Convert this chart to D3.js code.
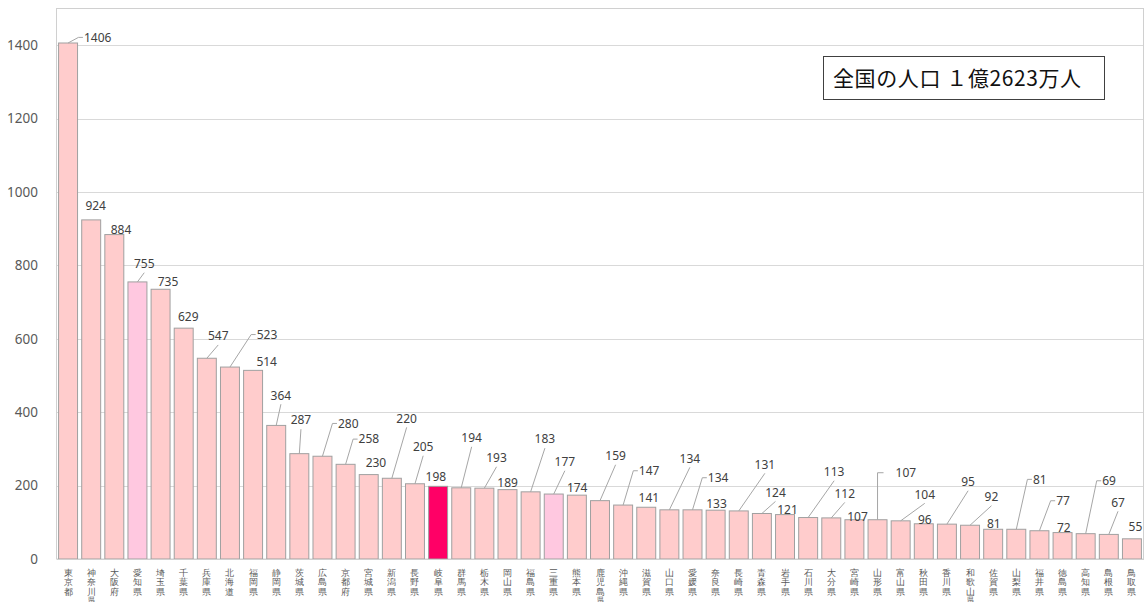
<!DOCTYPE html>
<html><head><meta charset="utf-8">
<script src="https://cdn.jsdelivr.net/npm/d3@7"></script>
<style>
html,body{margin:0;padding:0;background:#fff;}
svg{display:block;font-family:"Noto Sans CJK JP","Noto Sans",sans-serif;}
</style>
</head><body>
<svg id="chart" width="1146" height="602"></svg>
<script>
// ---- data ----
const categories = ["東京都","神奈川県","大阪府","愛知県","埼玉県","千葉県","兵庫県","北海道","福岡県","静岡県","茨城県","広島県","京都府","宮城県","新潟県","長野県","岐阜県","群馬県","栃木県","岡山県","福島県","三重県","熊本県","鹿児島県","沖縄県","滋賀県","山口県","愛媛県","奈良県","長崎県","青森県","岩手県","石川県","大分県","宮崎県","山形県","富山県","秋田県","香川県","和歌山県","佐賀県","山梨県","福井県","徳島県","高知県","島根県","鳥取県"];
const values = [1406,924,884,755,735,629,547,523,514,364,287,280,258,230,220,205,198,194,193,189,183,177,174,159,147,141,134,134,133,131,124,121,113,112,107,107,104,96,95,92,81,81,77,72,69,67,55];
const yTicks = [0,200,400,600,800,1000,1200,1400];
const softPinkPrefs = ["愛知県","三重県"];
const focusPrefs = ["岐阜県"];
const totalLabel = "全国の人口 １億2623万人";

// label placement (offset of label centre from bar top centre, leader type)
const labelOffsets = [
 [29.6,-5.6,"e"],[4.5,-14.4,"n"],[6.7,-4.8,"n"],[6.8,-18.2,"b"],[7.4,-7.9,"n"],
 [4.6,-11.1,"n"],[11.4,-22.3,"b"],[37,-32.5,"e"],[13.6,-8.4,"n"],[4.7,-30.2,"b"],
 [1.6,-33.5,"b"],[25.8,-32.8,"e"],[23.3,-25.2,"e"],[7.2,-12.2,"n"],[14.8,-59.9,"b"],
 [8.2,-37,"b"],[-2.2,-9.5,"n"],[10.4,-50,"b"],[12.2,-30.4,"b"],[0.1,-7.2,"n"],
 [14.3,-52.7,"b"],[11.1,-32.3,"b"],[0.3,-7.4,"n"],[15.6,-44.9,"b"],[26,-34.3,"e"],
 [2.6,-9.9,"n"],[20.5,-51.5,"b"],[25.6,-32.1,"e"],[0.9,-6.8,"n"],[26.1,-46.6,"b"],
 [13.6,-21.1,"b"],[2.5,-5.2,"n"],[26,-45.8,"b"],[13.5,-24.5,"b"],[3.1,-3.3,"n"],
 [28.3,-47,"v"],[24.1,-26.5,"b"],[1,-4.4,"n"],[21.2,-42.4,"b"],[21.4,-28.5,"b"],
 [0.6,-5.9,"n"],[23.5,-49.9,"e"],[23.6,-30,"e"],[1.2,-5.2,"n"],[23.4,-52.9,"e"],
 [9.2,-32.1,"b"],[3.5,-12.1,"n"]
];

// ---- chart ----
const svg = d3.select("#chart");
const plotL = 56.5, plotR = 1143.5, plotT = 8.5, plotB = 559;

const x = d3.scaleBand().domain(categories).range([plotL, plotR])
  .paddingInner(0.18).paddingOuter(0.09);
const y = d3.scaleLinear().domain([0,1500]).range([plotB, plotT]);

// grid + y axis
const yAxis = svg.append("g").attr("transform",`translate(${plotL},0)`)
  .call(d3.axisLeft(y).tickValues(yTicks).tickSizeInner(-(plotR-plotL)).tickSizeOuter(0).tickPadding(18.5).tickFormat(d3.format("d")));
yAxis.select(".domain").remove();
yAxis.selectAll(".tick line").attr("stroke","#d9d9d9").attr("stroke-width",1).attr("shape-rendering","crispEdges");
yAxis.selectAll(".tick text").attr("fill","#595959").attr("font-size","13.5px")
  .attr("font-family","'Noto Sans','Noto Sans CJK JP',sans-serif");

// plot border
svg.append("rect").attr("x",plotL).attr("y",plotT).attr("width",plotR-plotL).attr("height",plotB-plotT)
  .attr("fill","none").attr("stroke","#d0d0d0").attr("stroke-width",1);

// bars
const fillFor = c => focusPrefs.includes(c) ? "#ff0066" : (softPinkPrefs.includes(c) ? "#ffc8e0" : "#ffcccc");
svg.append("g").selectAll("rect").data(categories).join("rect")
  .attr("x", c => x(c)).attr("width", x.bandwidth())
  .attr("y", (c,i) => y(values[i])).attr("height", (c,i) => y(0)-y(values[i]))
  .attr("fill", fillFor).attr("stroke","#a0a0a0").attr("stroke-width",1);

// x axis (vertical category names)
const xAxis = svg.append("g").attr("transform",`translate(0,${plotB})`)
  .call(d3.axisBottom(x).tickSize(0).tickFormat(""));
xAxis.select(".domain").attr("stroke","#d0d0d0");
xAxis.selectAll(".tick text").each(function(c){
  const t = d3.select(this).attr("y",0).attr("dy",null).attr("fill","#595959").attr("font-size","9px");
  Array.from(c).forEach((ch,k) => {
    const small = k >= 3;
    t.append("tspan").attr("x",0).attr("y", small ? 42.8 : 16.8 + k*9.4)
      .attr("font-size", small ? "7px" : "9px").text(ch);
  });
});

// data labels + leader lines
const lab = svg.append("g");
categories.forEach((c,i) => {
  const cx = x(c) + x.bandwidth()/2;
  const top = y(values[i]);
  const [dx,dy,type] = labelOffsets[i];
  const lx = cx + dx, ly = top + dy;
  const t = lab.append("text").attr("x",lx).attr("y",ly).attr("dy","0.36em")
    .attr("text-anchor","middle").attr("fill","#404040").attr("font-size","12px")
    .attr("font-family","'Noto Sans','Noto Sans CJK JP',sans-serif")
    .text(values[i]);
  const w = t.node().getComputedTextLength();
  const left = lx - w/2;
  let pts = null;
  if (type === "b") pts = [[cx, top],[lx, ly+9]];
  else if (type === "e") pts = [[cx, top],[left-5.5, ly],[left-1, ly]];
  else if (type === "v") pts = [[cx, top],[cx, ly],[cx+6, ly]];
  if (pts) lab.append("path").attr("d", d3.line()(pts))
    .attr("fill","none").attr("stroke","#a6a6a6").attr("stroke-width",1);
});

// total box
svg.append("rect").attr("x",823.5).attr("y",56.5).attr("width",281).attr("height",43)
  .attr("fill","#fff").attr("stroke","#404040").attr("stroke-width",1);
svg.append("text").attr("x",833).attr("y",86).attr("font-size","21px").attr("letter-spacing","0.6px").attr("fill","#111")
  .text(totalLabel);
</script>
</body></html>
